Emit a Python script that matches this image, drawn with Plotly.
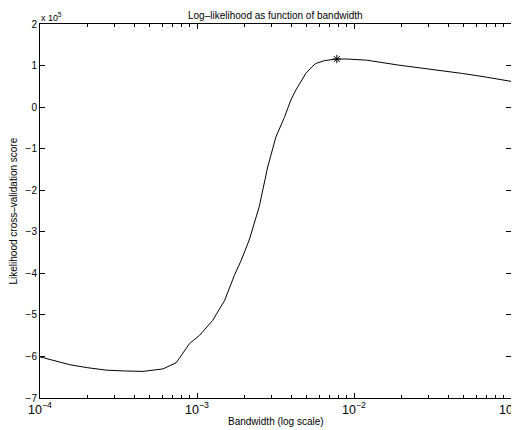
import plotly.graph_objects as go

# Bandwidth values (log scale) and likelihood CV score (in units of 1e5)
bandwidth = [1.0e-4, 1.55e-4, 2.0e-4, 2.65e-4, 3.5e-4, 4.53e-4, 6.07e-4, 7.38e-4,
             8.96e-4, 1.04e-3, 1.26e-3, 1.39e-3, 1.5e-3, 1.73e-3, 1.91e-3, 2.15e-3,
             2.49e-3, 2.82e-3, 3.18e-3, 3.6e-3, 3.96e-3, 4.26e-3, 4.93e-3, 5.4e-3,
             5.71e-3, 6.5e-3, 7.77e-3, 9.0e-3, 1.2e-2, 1.93e-2, 2.36e-2, 3.5e-2,
             4.9e-2, 7.0e-2, 1.0e-1]
score_x1e5 = [-6.01, -6.20, -6.27, -6.33, -6.35, -6.36, -6.30, -6.15,
              -5.69, -5.49, -5.13, -4.85, -4.65, -4.05, -3.69, -3.20,
              -2.40, -1.44, -0.72, -0.25, 0.17, 0.41, 0.81, 0.97,
              1.05, 1.12, 1.157, 1.157, 1.13, 1.01, 0.97, 0.89,
              0.81, 0.72, 0.62]

best_bw = [7.77e-3]
best_score = [1.157]

y_ticks = [-7, -6, -5, -4, -3, -2, -1, 0, 1, 2]

title_text = "Log–likelihood as function of bandwidth"
x_title = "Bandwidth (log scale)"
y_title = "Likelihood cross–validation score"

font = "Liberation Sans, Arial, Helvetica, sans-serif"

fig = go.Figure()
fig.add_trace(go.Scatter(x=bandwidth, y=score_x1e5, mode="lines",
                         line=dict(color="black", width=1), showlegend=False,
                         hoverinfo="skip"))
fig.add_trace(go.Scatter(x=best_bw, y=best_score, mode="markers",
                         marker=dict(symbol="asterisk-open", size=7, color="black",
                                     line=dict(color="black", width=1)),
                         showlegend=False))

fig.update_layout(
    width=511, height=422,
    margin=dict(l=32, r=8, t=16, b=32),
    paper_bgcolor="white", plot_bgcolor="white",
    font=dict(family=font, size=10, color="black"),
)
fig.update_xaxes(
    type="log", range=[-4, -1], dtick=1, exponentformat="power",
    showline=True, linecolor="black", linewidth=1, mirror="ticks",
    ticks="inside", ticklen=5, tickcolor="black", showgrid=False, zeroline=False,
    minor=dict(ticks="inside", ticklen=3, dtick="D1", tickcolor="black", showgrid=False),
    ticklabeloverflow="allow", automargin=False,
    tickfont=dict(size=10),
)
fig.update_yaxes(
    range=[-7, 2], tickvals=y_ticks,
    showline=True, linecolor="black", linewidth=1, mirror="ticks",
    ticks="inside", ticklen=5, tickcolor="black", showgrid=False, zeroline=False,
    automargin=False, tickfont=dict(size=10),
)
fig.add_annotation(text=title_text, xref="paper", yref="paper", x=0.5, y=1,
                   xanchor="center", yanchor="bottom", yshift=2, borderpad=0,
                   showarrow=False, font=dict(size=10))
fig.add_annotation(text=x_title, xref="paper", yref="paper", x=0.5, y=0,
                   xanchor="center", yanchor="top", yshift=-16, showarrow=False,
                   font=dict(size=10))
fig.add_annotation(text=y_title, xref="paper", yref="paper", x=0, y=0.5,
                   xanchor="right", yanchor="middle", xshift=-20, textangle=-90,
                   showarrow=False, font=dict(size=10))
fig.add_annotation(text="x 10<sup>5</sup>", xref="paper", yref="paper",
                   x=0, y=1, xanchor="left", yanchor="bottom", showarrow=False,
                   borderpad=0, font=dict(size=9), yshift=0)

fig.write_html("out.html")
